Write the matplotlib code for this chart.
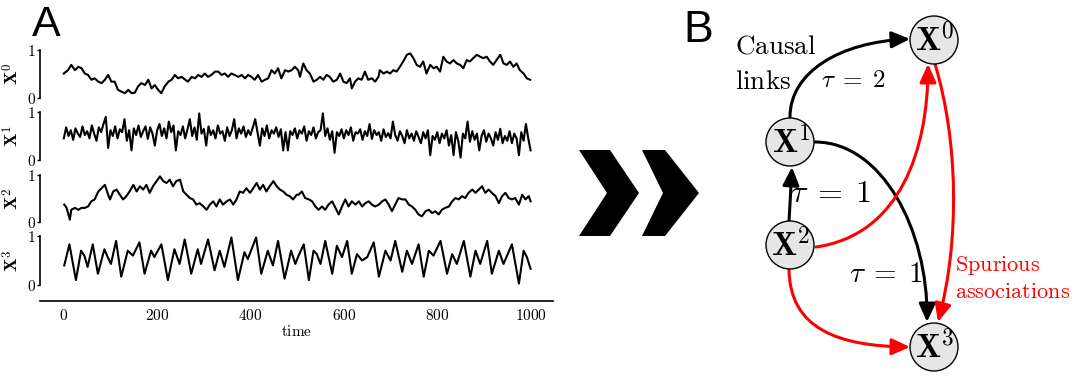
import numpy as np
import matplotlib
matplotlib.use("Agg")
import matplotlib.pyplot as plt
from matplotlib.patches import Circle, Polygon, FancyArrowPatch
from matplotlib.path import Path

plt.rcParams['mathtext.fontset'] = 'cm'

# ---- panel A: time series ----
t0 = [0, 9, 16, 24, 31, 38, 45, 52, 59, 66, 74, 81, 88, 95, 102, 109, 116, 124, 131, 138,
      145, 152, 159, 166, 174, 181, 188, 195, 202, 209, 216, 224, 231, 238, 245, 252, 259, 266, 274, 281,
      288, 295, 302, 309, 316, 324, 331, 338, 345, 352, 359, 366, 374, 381, 388, 395, 402, 409, 416, 424,
      431, 438, 445, 452, 459, 466, 474, 481, 488, 495, 502,
      506, 513, 520, 527, 535, 542, 549, 556, 563, 570, 577, 585, 592, 599, 606, 613, 617, 624, 631, 638,
      645, 652, 660, 667, 674, 677, 685, 692, 699, 706, 713, 720, 727, 735, 742, 749, 756, 763, 770, 777,
      785, 792, 799, 806, 813, 820, 827, 835, 842, 849, 856, 863, 870, 877, 885, 892, 899, 906, 913, 920,
      927, 935, 942, 949, 956, 963, 970, 977, 985, 992, 999]
x0 = [0.51, 0.58, 0.69, 0.58, 0.65, 0.62, 0.51, 0.48, 0.38, 0.41, 0.34, 0.31, 0.38, 0.48, 0.34, 0.34, 0.17, 0.13, 0.10, 0.17,
      0.10, 0.11, 0.24, 0.31, 0.27, 0.38, 0.20, 0.27, 0.17, 0.10, 0.24, 0.34, 0.38, 0.48, 0.41, 0.44, 0.39, 0.34, 0.44, 0.41,
      0.48, 0.44, 0.51, 0.44, 0.48, 0.55, 0.55, 0.48, 0.51, 0.44, 0.51, 0.48, 0.44, 0.48, 0.41, 0.48, 0.44, 0.38, 0.48, 0.34,
      0.38, 0.41, 0.58, 0.51, 0.62, 0.41, 0.58, 0.55, 0.58, 0.65, 0.58,
      0.44, 0.72, 0.58, 0.51, 0.34, 0.38, 0.44, 0.38, 0.48, 0.44, 0.34, 0.38, 0.51, 0.34, 0.31, 0.41, 0.20, 0.34, 0.41, 0.38,
      0.55, 0.38, 0.41, 0.34, 0.44, 0.58, 0.51, 0.55, 0.51, 0.58, 0.55, 0.65, 0.76, 0.90, 0.93, 0.83, 0.69, 0.65, 0.76, 0.51,
      0.69, 0.62, 0.65, 0.55, 0.86, 0.76, 0.72, 0.79, 0.72, 0.69, 0.62, 0.79, 0.76, 0.83, 0.90, 0.86, 0.83, 0.86, 0.76, 0.69,
      0.79, 0.90, 0.72, 0.69, 0.76, 0.65, 0.72, 0.58, 0.51, 0.41, 0.38]

t1 = list(range(0, 1001, 5))
x1 = [0.45, 0.68, 0.50, 0.62, 0.42, 0.66, 0.55, 0.48, 0.70, 0.52,
      0.60, 0.45, 0.72, 0.55, 0.40, 0.68, 0.58, 0.75, 0.90, 0.25,
      0.62, 0.50, 0.70, 0.45, 0.64, 0.58, 0.85, 0.40, 0.62, 0.20,
      0.66, 0.52, 0.72, 0.48, 0.60, 0.70, 0.44, 0.68, 0.55, 0.30,
      0.62, 0.75, 0.50, 0.66, 0.45, 0.80, 0.58, 0.72, 0.20, 0.60,
      0.52, 0.70, 0.45, 0.64, 0.85, 0.50, 0.68, 0.42, 0.97, 0.55,
      0.65, 0.30, 0.70, 0.52, 0.62, 0.45, 0.72, 0.55, 0.60, 0.40,
      0.68, 0.50, 0.62, 0.85, 0.45, 0.66, 0.55, 0.70, 0.48, 0.62,
      0.52, 0.68, 0.85, 0.58, 0.30, 0.66, 0.50, 0.72, 0.45, 0.62,
      0.55, 0.68, 0.48, 0.64, 0.20, 0.58, 0.20, 0.60, 0.52, 0.66,
      0.45, 0.62, 0.55, 0.70, 0.40, 0.60, 0.52, 0.68, 0.45, 0.58,
      0.62, 0.97, 0.50, 0.66, 0.42, 0.60, 0.15, 0.58, 0.50, 0.64,
      0.45, 0.62, 0.52, 0.68, 0.40, 0.58, 0.55, 0.64, 0.42, 0.60,
      0.50, 0.75, 0.44, 0.62, 0.52, 0.58, 0.40, 0.64, 0.48, 0.56,
      0.45, 0.80, 0.52, 0.40, 0.60, 0.50, 0.35, 0.62, 0.45, 0.55,
      0.40, 0.60, 0.48, 0.35, 0.58, 0.45, 0.62, 0.10, 0.50, 0.42,
      0.58, 0.35, 0.55, 0.45, 0.62, 0.30, 0.52, 0.10, 0.58, 0.40,
      0.05, 0.55, 0.45, 0.80, 0.38, 0.60, 0.42, 0.55, 0.20, 0.50,
      0.62, 0.38, 0.55, 0.45, 0.30, 0.58, 0.42, 0.65, 0.35, 0.50,
      0.40, 0.60, 0.35, 0.55, 0.45, 0.10, 0.58, 0.40, 0.75, 0.45,
      0.20]

t2 = [1, 6, 13, 16, 24, 31, 38, 45, 52, 59, 66, 74, 81, 88, 95, 99, 106, 113, 120, 127,
      134, 141, 149, 156, 163, 170, 177, 184, 191, 199, 206, 213, 220, 227, 234, 241, 249, 256, 263, 270,
      277, 284, 291, 299, 306, 313, 320, 327, 334, 341, 349, 356, 363, 370, 377, 384, 391, 399, 406, 413,
      420, 427, 434, 441, 449, 456, 463, 470, 477, 484, 491, 499,
      503, 510, 517, 525, 532, 539, 546, 553, 560, 567, 575, 582, 589, 596, 603, 610, 617, 625, 632, 639,
      646, 653, 660, 667, 675, 682, 689, 696, 703, 710, 717, 725, 732, 739, 746, 753, 760, 767, 775, 782,
      789, 796, 803, 810, 817, 825, 832, 839, 846, 853, 860, 867, 875, 882, 889, 896, 903, 910, 917, 925,
      932, 939, 946, 953, 960, 967, 975, 982, 989, 996, 1000]
x2 = [0.37, 0.30, 0.05, 0.26, 0.30, 0.26, 0.30, 0.30, 0.33, 0.44, 0.48, 0.65, 0.72, 0.79, 0.58, 0.48, 0.65, 0.69, 0.58, 0.48,
      0.55, 0.65, 0.79, 0.65, 0.76, 0.69, 0.79, 0.62, 0.76, 0.87, 0.97, 0.87, 0.83, 0.90, 0.76, 0.87, 0.90, 0.65, 0.58, 0.51,
      0.48, 0.37, 0.40, 0.33, 0.26, 0.37, 0.44, 0.33, 0.48, 0.37, 0.44, 0.48, 0.37, 0.48, 0.65, 0.62, 0.72, 0.62, 0.72, 0.83,
      0.69, 0.79, 0.65, 0.76, 0.87, 0.76, 0.69, 0.65, 0.58, 0.55, 0.48, 0.58,
      0.58, 0.65, 0.51, 0.48, 0.44, 0.33, 0.26, 0.33, 0.26, 0.37, 0.44, 0.30, 0.16, 0.33, 0.48, 0.33, 0.44, 0.37, 0.44, 0.33,
      0.40, 0.44, 0.37, 0.33, 0.37, 0.44, 0.48, 0.37, 0.23, 0.37, 0.51, 0.48, 0.48, 0.37, 0.33, 0.26, 0.16, 0.12, 0.23, 0.26,
      0.19, 0.23, 0.16, 0.26, 0.30, 0.33, 0.44, 0.51, 0.48, 0.55, 0.51, 0.62, 0.69, 0.62, 0.69, 0.76, 0.62, 0.69, 0.62, 0.55,
      0.40, 0.55, 0.62, 0.51, 0.48, 0.51, 0.37, 0.58, 0.48, 0.55, 0.44]

t3 = [1, 12, 26, 37, 44, 51, 62, 73, 87, 94, 101, 112, 123, 137, 148, 162, 173, 187, 194, 209,
      223, 237, 248, 259, 273, 287, 294, 309, 323, 334, 344, 359, 373, 387, 394, 412, 423, 437, 448, 459,
      473, 487,
      496, 503, 514, 525, 535, 542, 550, 560, 575, 585, 596, 607, 617, 628, 639, 650, 664, 675, 689, 700,
      710, 725, 735, 746, 760, 771, 782, 792, 807, 821, 832, 842, 857, 871, 882, 892, 907, 917, 932, 942,
      960, 975, 985, 992, 1000]
x3 = [0.40, 0.83, 0.10, 0.70, 0.60, 0.37, 0.83, 0.23, 0.73, 0.57, 0.43, 0.90, 0.17, 0.70, 0.60, 0.87, 0.23, 0.70, 0.57, 0.83,
      0.10, 0.73, 0.43, 0.93, 0.23, 0.73, 0.43, 0.93, 0.30, 0.70, 0.37, 0.97, 0.10, 0.67, 0.53, 0.97, 0.23, 0.70, 0.40, 0.90,
      0.13, 0.70,
      0.43, 0.60, 0.83, 0.10, 0.70, 0.63, 0.43, 0.90, 0.23, 0.80, 0.57, 0.90, 0.23, 0.63, 0.50, 0.57, 0.87, 0.17, 0.70, 0.50,
      0.90, 0.27, 0.70, 0.43, 0.83, 0.17, 0.70, 0.60, 0.90, 0.23, 0.63, 0.43, 0.90, 0.17, 0.70, 0.43, 0.90, 0.23, 0.70, 0.43,
      0.83, 0.03, 0.70, 0.57, 0.33]

series = [(t0, x0), (t1, x1), (t2, x2), (t3, x3)]
x_ticks = [0, 200, 400, 600, 800, 1000]

# ---- panel B: graph ----
node_names = ['0', '1', '2', '3']
node_pos = {'0': (934, 40), '1': (790, 142), '2': (790, 245), '3': (934, 347)}
# (verts of cubic bezier, colour)
links = [
    ([(790, 117), (790, 72), (840, 42), (910, 39)], 'black'),     # X1 -> X0
    ([(789, 221), (790, 205), (791, 185), (792, 167)], 'black'),  # X2 -> X1
    ([(815, 142), (882, 142), (928, 230), (927, 322)], 'black'),  # X1 -> X3
    ([(816, 247), (900, 235), (928, 150), (928, 64)], 'red'),     # X2 -> X0
    ([(935, 64), (958, 140), (960, 240), (938, 322)], 'red'),     # X0 -> X3
    ([(789, 268), (789, 330), (840, 346), (910, 347)], 'red'),    # X2 -> X3
]

W, H = 1072, 376
fig = plt.figure(figsize=(W / 100, H / 100), dpi=100)


def box(xl, xr, ytop, ybot):
    return [xl / W, 1 - ybot / H, (xr - xl) / W, (ybot - ytop) / H]


rows = [(50, 98), (112, 160), (175, 222), (236, 285)]
for i, (t, v) in enumerate(series):
    ax = fig.add_axes(box(40, 553, *rows[i]))
    ax.plot(t, v, color='black', lw=1.5, clip_on=False)
    ax.set_xlim(-51, 1048)
    ax.set_ylim(0, 1)
    ax.patch.set_visible(False)
    ax.spines['top'].set_visible(False)
    ax.spines['right'].set_visible(False)
    ax.spines['left'].set_bounds(0, 1)
    ax.spines['left'].set_linewidth(1.2)
    ax.set_yticks([0, 1])
    ax.set_yticklabels(['$0$', '$1$'], fontsize=11)
    ax.tick_params(axis='y', length=2, width=1, pad=1)
    ax.set_ylabel(r'$\mathbf{X}^{%d}$' % i, fontsize=13)
    ax.yaxis.set_label_coords(-0.034, 0.5)
    if i < 3:
        ax.spines['bottom'].set_visible(False)
        ax.set_xticks([])
    else:
        ax.spines['bottom'].set_position(('outward', 11.5))
        ax.spines['bottom'].set_linewidth(1.2)
        ax.set_xticks(x_ticks)
        ax.set_xticklabels(['$%d$' % v for v in x_ticks], fontsize=11)
        ax.tick_params(axis='x', length=0, pad=5)
        ax.set_xlabel(r'$\mathrm{time}$', fontsize=11, labelpad=1)

fig.text(32 / W, 1 - 36 / H, 'A', fontsize=31, family='Liberation Sans', va='baseline')

ov = fig.add_axes([0, 0, 1, 1])
ov.set_xlim(0, W)
ov.set_ylim(H, 0)
ov.axis('off')

fig.text(683 / W, 1 - 42 / H, 'B', fontsize=32, family='Liberation Sans', va='baseline')

# chevron arrow
chev1 = [(579, 150), (610, 150), (639, 193), (610, 236), (579, 236), (607, 193)]
chev2 = [(642, 150), (665, 150), (699, 193), (665, 236), (642, 236), (663, 193)]
for c in (chev1, chev2):
    ov.add_patch(Polygon(c, closed=True, fc='black', ec='none'))

codes = [Path.MOVETO, Path.CURVE4, Path.CURVE4, Path.CURVE4]
for verts, col in links:
    ov.add_patch(FancyArrowPatch(path=Path(verts, codes),
                                 arrowstyle='-|>,head_length=11,head_width=5',
                                 mutation_scale=1, lw=2.2, color=col, zorder=2))

for n in node_names:
    x, y = node_pos[n]
    ov.add_patch(Circle((x, y), 24, fc='#e6e6e6', ec='black', lw=1.0, zorder=3))
    ov.text(x + 1, y + 1, r'$\mathbf{X}^{%s}$' % n, fontsize=24, ha='center', va='center', zorder=4)

ov.text(735, 54, r'$\mathrm{Causal}$', fontsize=19.5, va='baseline')
ov.text(735, 89, r'$\mathrm{links}$', fontsize=19.5, va='baseline')
ov.text(853, 80, r'$\tau\;=\;2$', fontsize=18, ha='center', va='center')
ov.text(831, 193, r'$\tau\;=\;1$', fontsize=23, ha='center', va='center')
ov.text(886, 274, r'$\tau\;=\;1$', fontsize=21, ha='center', va='center')
ov.text(955, 271, r'$\mathrm{Spurious}$', fontsize=16, color='red', va='baseline')
ov.text(955, 298, r'$\mathrm{associations}$', fontsize=16, color='red', va='baseline')

fig.savefig('out.png', dpi=100)
